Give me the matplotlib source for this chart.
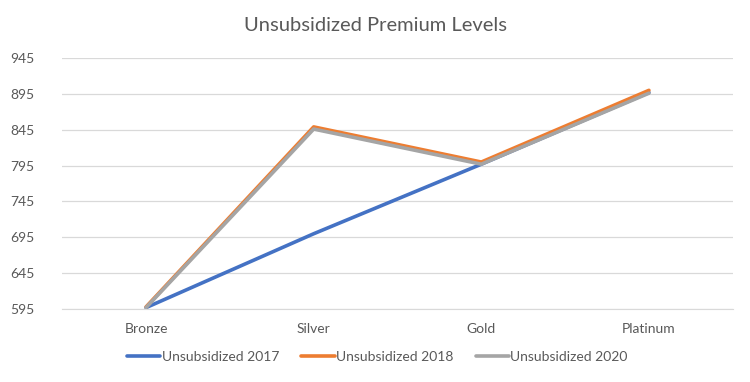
import matplotlib
matplotlib.use("Agg")
import matplotlib.pyplot as plt

categories = ["Bronze", "Silver", "Gold", "Platinum"]
unsub_2017 = [597, 700, 797, 897]
unsub_2018 = [598, 849, 800, 900]
unsub_2020 = [597, 846, 797, 896]
yticks = [595, 645, 695, 745, 795, 845, 895, 945]

plt.rcParams["font.family"] = ["Lato", "DejaVu Sans"]

fig = plt.figure(figsize=(7.5, 3.82), dpi=100)
ax = fig.add_axes([0.083, 0.191, 0.894, 0.657])

x = list(range(len(categories)))
ax.plot(x, unsub_2017, color="#4472C4", lw=2.6, label="Unsubsidized 2017", solid_capstyle="round")
ax.plot(x, unsub_2018, color="#ED7D31", lw=2.6, label="Unsubsidized 2018", solid_capstyle="round")
ax.plot(x, unsub_2020, color="#A5A5A5", lw=2.6, label="Unsubsidized 2020", solid_capstyle="round")

ax.set_xlim(-0.5, len(categories) - 0.5)
ax.set_ylim(595, 945)
ax.set_xticks(x)
ax.set_xticklabels(categories)
ax.set_yticks(yticks)
ax.grid(axis="y", color="#D9D9D9", lw=0.9)
ax.set_axisbelow(True)
for s in ["top", "right", "left"]:
    ax.spines[s].set_visible(False)
ax.spines["bottom"].set_color("#D9D9D9")
ax.tick_params(axis="both", length=0, colors="#595959", labelsize=10)
ax.tick_params(axis="x", pad=10)
ax.tick_params(axis="y", pad=20)

fig.suptitle("Unsubsidized Premium Levels", y=0.955, fontsize=14.5, color="#595959")

fig.legend(loc="center", bbox_to_anchor=(0.503, 0.065), ncol=3, frameon=False,
           fontsize=10, handlelength=2.4, handletextpad=0.1, columnspacing=1.6,
           labelcolor="#595959")

fig.savefig("out.png", dpi=100)
